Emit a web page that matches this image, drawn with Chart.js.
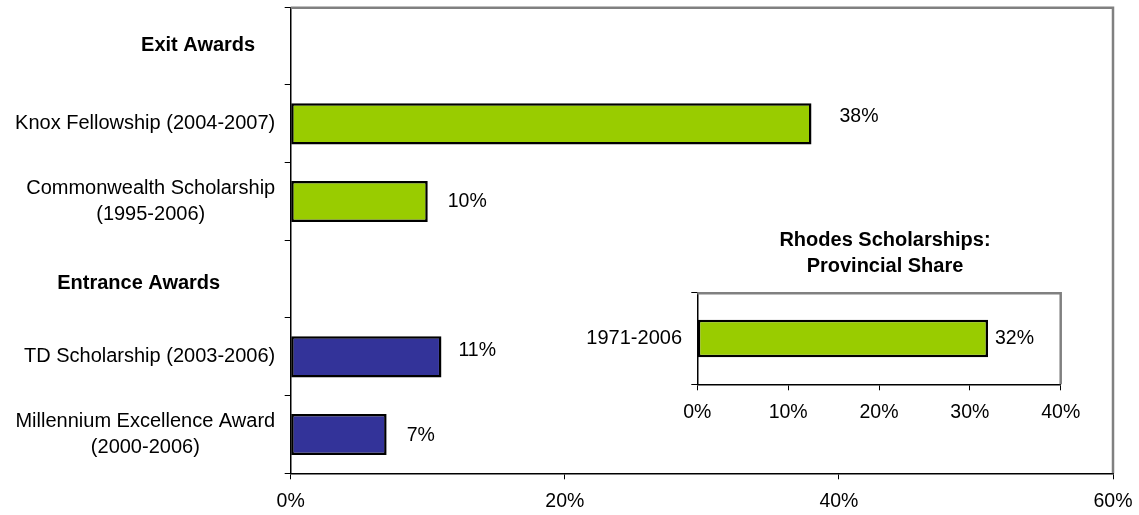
<!DOCTYPE html>
<html>
<head>
<meta charset="utf-8">
<title>Award shares</title>
<script src="https://cdn.jsdelivr.net/npm/chart.js@4/dist/chart.umd.min.js"></script>
<style>
  html, body { margin: 0; padding: 0; background: #fff; }
  #wrap { position: relative; width: 1139px; height: 515px; }
  #main { position: absolute; left: 0; top: 0; }
  #inset { position: absolute; left: 560px; top: 220px; }
</style>
</head>
<body>
<div id="wrap">
  <canvas id="main" width="1139" height="515"></canvas>
  <canvas id="inset" width="540" height="210"></canvas>
</div>
<script>
// Main chart: categories (group headers have no bar)
const categories = [
  ['Exit Awards'],
  ['Knox Fellowship (2004-2007)'],
  ['Commonwealth Scholarship', '(1995-2006)'],
  ['Entrance Awards'],
  ['TD Scholarship (2003-2006)'],
  ['Millennium Excellence Award', '(2000-2006)']
];
const headerRows = [0, 3];
const exitAwardShares     = [null, 38, 10, null, null, null];
const entranceAwardShares = [null, null, null, null, 11, 7];
const mainTicks = [0, 20, 40, 60];

// Inset chart: Rhodes Scholarships
const rhodesTitle = ['Rhodes Scholarships:', 'Provincial Share'];
const rhodesPeriods = ['1971-2006'];
const rhodesShares = [32];
const insetTicks = [0, 10, 20, 30, 40];

const FONT = "'Liberation Sans', Arial, Helvetica, sans-serif";
const GREEN = '#99CC00';
const BLUE = '#333399';
const FRAME = '#808080';

// label placement tweaks (pixels), per category row
const headerShift = { 0: { dx: -20, dy: -0.5 }, 3: { dx: -55, dy: 4 } };
const valueNudge = { 1: { dx: 28, dy: -7 }, 2: { dx: 20, dy: 0 }, 4: { dx: 17, dy: -6 }, 5: { dx: 20, dy: 1 } };

// gray top/right frame of a plot area
const framePlugin = {
  id: 'frame',
  afterDraw(chart) {
    const { ctx, chartArea: a } = chart;
    ctx.save();
    ctx.strokeStyle = FRAME;
    ctx.lineWidth = 2.5;
    ctx.beginPath();
    ctx.moveTo(a.left, a.top + 0.5);
    ctx.lineTo(a.right, a.top + 0.5);
    ctx.lineTo(a.right, a.bottom);
    ctx.stroke();
    ctx.restore();
  }
};

// value labels placed just past the end of each bar
function makeValueLabelPlugin(size, gap, nudge) {
  return {
    id: 'valueLabels',
    afterDatasetsDraw(chart) {
      const { ctx } = chart;
      ctx.save();
      ctx.fillStyle = '#000';
      ctx.font = size + 'px ' + FONT;
      ctx.textAlign = 'left';
      ctx.textBaseline = 'middle';
      chart.data.datasets.forEach((ds, di) => {
        chart.getDatasetMeta(di).data.forEach((el, i) => {
          const v = ds.data[i];
          if (v === null || v === undefined) return;
          const n = nudge[i] || { dx: gap, dy: 0 };
          ctx.fillText(v + '%', el.x + n.dx, el.y + n.dy);
        });
      });
      ctx.restore();
    }
  };
}

// category labels: each multi-line block centred on itself, right edge next to the axis
const categoryLabelPlugin = {
  id: 'categoryLabels',
  afterDraw(chart) {
    const { ctx, chartArea: a } = chart;
    const yScale = chart.scales.y;
    const size = 20, gap = 15.5, lineHeight = 26.5;
    ctx.save();
    ctx.fillStyle = '#000';
    ctx.textAlign = 'center';
    ctx.textBaseline = 'middle';
    categories.forEach((lines, i) => {
      const isHeader = headerRows.includes(i);
      ctx.font = (isHeader ? 'bold ' : '') + size + 'px ' + FONT;
      const shift = headerShift[i] || { dx: 0, dy: 0 };
      const right = a.left - gap + shift.dx;
      const w = Math.max(...lines.map(l => ctx.measureText(l).width));
      const cx = right - w / 2;
      const cy = yScale.getPixelForValue(i) + shift.dy;
      const y0 = cy - (lines.length - 1) * lineHeight / 2;
      lines.forEach((l, k) => ctx.fillText(l, cx, y0 + k * lineHeight));
    });
    ctx.restore();
  }
};

// keep the plot edges where the layout padding puts them
function fixedHeight(h) {
  return s => { s.height = h; s.paddingLeft = 0; s.paddingRight = 0; };
}

new Chart(document.getElementById('main'), {
  type: 'bar',
  data: {
    labels: categories,
    datasets: [
      { data: exitAwardShares, backgroundColor: GREEN, borderColor: '#000', borderWidth: 2.5,
        borderSkipped: false, grouped: false, barPercentage: 0.53, categoryPercentage: 1 },
      { data: entranceAwardShares, backgroundColor: BLUE, borderColor: '#000', borderWidth: 2.5,
        borderSkipped: false, grouped: false, barPercentage: 0.53, categoryPercentage: 1 }
    ]
  },
  options: {
    indexAxis: 'y',
    responsive: false,
    animation: false,
    layout: { padding: { top: 7.3, right: 26, left: 0, bottom: 0 } },
    plugins: {
      legend: { display: false },
      tooltip: { enabled: false }
    },
    scales: {
      x: {
        type: 'linear', min: 0, max: 60,
        afterBuildTicks: s => { s.ticks = mainTicks.map(v => ({ value: v })); },
        ticks: { color: '#000', font: { family: FONT, size: 19.5 }, padding: 11, maxRotation: 0,
                 callback: v => v + '%' },
        grid: { drawOnChartArea: false, drawTicks: true, tickLength: 6, color: '#000', lineWidth: 1 },
        border: { color: '#000', width: 1.5 },
        afterFit: fixedHeight(41.7)
      },
      y: {
        type: 'category',
        ticks: { display: false },
        grid: { drawOnChartArea: false, drawTicks: true, tickLength: 6, color: '#000', lineWidth: 1, offset: true },
        border: { color: '#000', width: 1.5 },
        afterFit: s => { s.width = 290.7; }
      }
    }
  },
  plugins: [framePlugin, makeValueLabelPlugin(19.5, 20, valueNudge), categoryLabelPlugin]
});

// two-line bold title over the inset plot
const insetTitlePlugin = {
  id: 'insetTitle',
  afterDraw(chart) {
    const { ctx, chartArea: a } = chart;
    ctx.save();
    ctx.fillStyle = '#000';
    ctx.font = 'bold 20px ' + FONT;
    ctx.textAlign = 'center';
    ctx.textBaseline = 'middle';
    const cx = (a.left + a.right) / 2 + 6;
    ctx.fillText(rhodesTitle[0], cx, a.top - 52);
    ctx.fillText(rhodesTitle[1], cx, a.top - 26);
    ctx.restore();
  }
};

new Chart(document.getElementById('inset'), {
  type: 'bar',
  data: {
    labels: rhodesPeriods,
    datasets: [
      { data: rhodesShares, backgroundColor: GREEN, borderColor: '#000', borderWidth: 2.5,
        borderSkipped: false, barPercentage: 0.41, categoryPercentage: 1 }
    ]
  },
  options: {
    indexAxis: 'y',
    responsive: false,
    animation: false,
    layout: { padding: { top: 72.7, right: 39.3, left: 0, bottom: 0 } },
    plugins: {
      legend: { display: false },
      tooltip: { enabled: false }
    },
    scales: {
      x: {
        type: 'linear', min: 0, max: 40,
        afterBuildTicks: s => { s.ticks = insetTicks.map(v => ({ value: v })); },
        ticks: { color: '#000', font: { family: FONT, size: 19.5 }, padding: 11, maxRotation: 0,
                 callback: v => v + '%' },
        grid: { drawOnChartArea: false, drawTicks: true, tickLength: 6, color: '#000', lineWidth: 1 },
        border: { color: '#000', width: 1.5 },
        afterFit: fixedHeight(45.7)
      },
      y: {
        type: 'category',
        ticks: { color: '#000', font: { family: FONT, size: 20 }, padding: 9.3 },
        grid: { drawOnChartArea: false, drawTicks: true, tickLength: 6, color: '#000', lineWidth: 1, offset: true },
        border: { color: '#000', width: 1.5 },
        afterFit: s => { s.width = 137.3; }
      }
    }
  },
  plugins: [framePlugin, makeValueLabelPlugin(19.5, 7, {}), insetTitlePlugin]
});
</script>
</body>
</html>
